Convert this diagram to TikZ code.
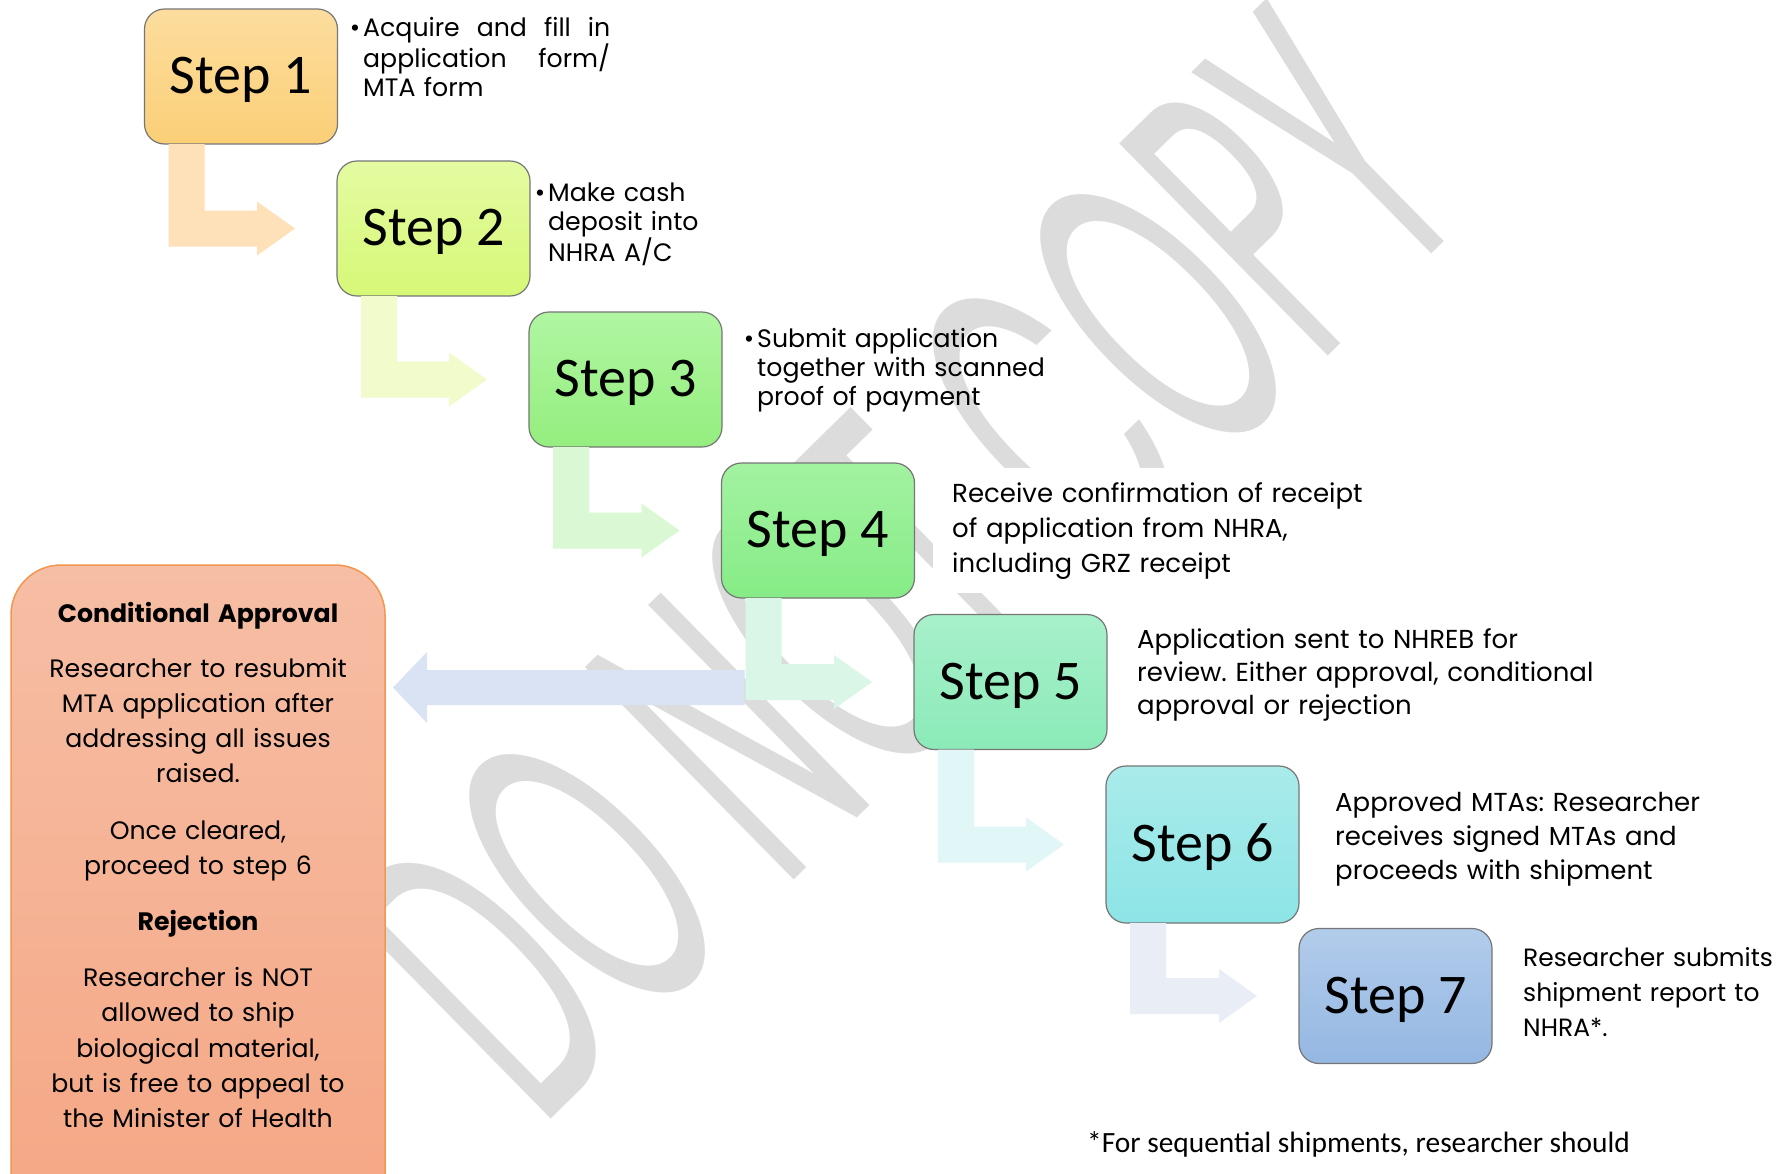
\documentclass[tikz,border=0pt]{standalone}
\usepackage{fontspec}
\setmainfont{Poppins}
\newfontfamily\calfont{Carlito}
\usepackage{graphicx}
\usetikzlibrary{calc}
\frenchspacing
\definecolor{s1t}{HTML}{FCDD9E}\definecolor{s1b}{HTML}{FBCF77}
\definecolor{s2t}{HTML}{E4FBA2}\definecolor{s2b}{HTML}{D6F876}
\definecolor{s3t}{HTML}{B0F6A2}\definecolor{s3b}{HTML}{94EE7E}
\definecolor{s4t}{HTML}{A3F2A1}\definecolor{s4b}{HTML}{86EC86}
\definecolor{s5t}{HTML}{A8F0CB}\definecolor{s5b}{HTML}{8BEAB8}
\definecolor{s6t}{HTML}{AAEBEB}\definecolor{s6b}{HTML}{8DE4E6}
\definecolor{s7t}{HTML}{B2CCEB}\definecolor{s7b}{HTML}{94B7E2}
\definecolor{a1}{HTML}{FEE1B9}
\definecolor{a2}{HTML}{F1FBCB}
\definecolor{a3}{HTML}{D9F8D3}
\definecolor{a4}{HTML}{DAF6E6}
\definecolor{a5}{HTML}{E1F6F7}
\definecolor{a6}{HTML}{E9EDF6}
\definecolor{ab}{HTML}{DAE3F3}
\definecolor{cbt}{HTML}{F6BEA5}\definecolor{cbb}{HTML}{F5A683}\definecolor{cbd}{HTML}{F4964E}
\definecolor{wmgray}{HTML}{DCDCDC}
\definecolor{bord}{HTML}{767676}
\newcommand{\bentarr}[3]{%
  \fill[#3] let \p1=(#1.south west), \p2=(#2.west) in
    (\x1+24pt,\y1) -- (\x1+60pt,\y1) -- (\x1+60pt,\y2+18pt) -- (\x2-80pt,\y2+18pt)
    -- (\x2-80pt,\y2+27pt) -- (\x2-42pt,\y2) -- (\x2-80pt,\y2-27pt) -- (\x2-80pt,\y2-18pt)
    -- (\x1+24pt,\y2-18pt) -- cycle;}
\newcommand{\steplabel}[1]{\raisebox{-4.5pt}[30pt][5pt]{Step #1}}
\tikzset{
  stepbox/.style={draw=bord, line width=1.2pt, rounded corners=20pt, minimum width=193pt,
    minimum height=135pt, inner sep=0pt, outer sep=0pt, font=\calfont\fontsize{56}{60}\selectfont},
  descs/.style={anchor=base west, inner sep=0pt, align=left, font=\fontsize{25.2}{29}\selectfont},
  descl/.style={anchor=base west, inner sep=0pt, align=left, font=\fontsize{26}{35}\selectfont},
}
\begin{document}
\begin{tikzpicture}[x=1pt,y=-1pt]
\useasboundingbox (0,0) rectangle (1784,1173);
\clip (0,0) rectangle (1784,1173);
\fill[white] (0,0) rectangle (1784,1173);
% watermark
\node[anchor=base west, rotate=44.5, inner sep=0pt, text=wmgray, font=\fontsize{194}{194}\selectfont] (wm) at (540,1130) {\scalebox{1}[2.2]{DO NOT COPY}};
% conditional box
\node[draw=cbd, line width=1.5pt, rounded corners=50pt, top color=cbt, bottom color=cbb,
  minimum width=374pt, minimum height=680pt, inner sep=0pt, outer sep=0pt] (c) at (198,905) {};
\node[anchor=base, text width=370pt, align=center, inner sep=0pt, font=\fontsize{25.2}{35.2}\selectfont] (ct) at (198,622)
 {\textbf{Conditional Approval}\\[20pt]Researcher to resubmit\\MTA application after\\addressing all issues\\raised.\\[21pt]Once cleared,\\proceed to step 6\\[21pt]\textbf{Rejection}\\[21pt]Researcher is NOT\\allowed to ship\\biological material,\\but is free to appeal to\\the Minister of Health};
% steps
\node[stepbox, top color=s1t, bottom color=s1b] (s1) at (241,76.5) {\steplabel{1}};
\node[stepbox, top color=s2t, bottom color=s2b] (s2) at (433.5,228.5) {\steplabel{2}};
\node[stepbox, top color=s3t, bottom color=s3b] (s3) at (625.5,379.5) {\steplabel{3}};
\node[stepbox, top color=s4t, bottom color=s4b] (s4) at (818,530.5) {\steplabel{4}};
\node[stepbox, top color=s5t, bottom color=s5b] (s5) at (1010.5,682) {\steplabel{5}};
\node[stepbox, top color=s6t, bottom color=s6b, minimum height=157pt] (s6) at (1202.5,844.5) {\steplabel{6}};
\node[stepbox, top color=s7t, bottom color=s7b] (s7) at (1395.5,996) {\steplabel{7}};
% connectors
\fill[ab] let \p1=(c.east), \p2=(s4.south west), \p3=(s5.west) in
  (\x2+23pt,\y3+12pt) -- (\x1+42pt,\y3+12pt) -- (\x1+42pt,\y3+30pt) -- (\x1+8pt,\y3-5.5pt)
  -- (\x1+42pt,\y3-41pt) -- (\x1+42pt,\y3-23pt) -- (\x2+23pt,\y3-23pt) -- cycle;
\bentarr{s1}{s2}{a1}
\bentarr{s2}{s3}{a2}
\bentarr{s3}{s4}{a3}
\bentarr{s4}{s5}{a4}
\bentarr{s5}{s6}{a5}
\bentarr{s6}{s7}{a6}
% descriptions
\node[descs, text width=247pt] (d1) at (363,36) {\llap{•\hspace{3pt}}Acquire\hfill and\hfill fill\hfill in\\application\hfill form/\\MTA form};
\node[descs, text width=220pt] (d2) at (548,201) {\llap{•\hspace{3pt}}Make cash\\deposit into\\NHRA A/C};
\node[descs, text width=330pt] (d3) at (757,347) {\llap{•\hspace{3pt}}Submit application\\together with scanned\\proof of payment};
\node[descl, text width=420pt, fill=white, inner xsep=19pt, inner ysep=14pt] (d4) at (933,502) {Receive confirmation of receipt\\of application from NHRA,\\including GRZ receipt};
\node[descl, text width=470pt, font=\fontsize{26}{33}\selectfont] (d5) at (1137,648) {Application sent to NHREB for\\review. Either approval, conditional\\approval or rejection};
\node[descl, text width=400pt, font=\fontsize{26}{34}\selectfont] (d6) at (1335,811) {Approved MTAs: Researcher\\receives signed MTAs and\\proceeds with shipment};
\node[descl, text width=260pt, font=\fontsize{25}{35}\selectfont] (d7) at (1523,966) {Researcher submits\\shipment report to\\NHRA*.};
\node[anchor=base west, inner sep=0pt, font=\calfont\fontsize{29.4}{34}\selectfont] (fn) at (1087,1152) {*For sequential shipments, researcher should};
\end{tikzpicture}
\end{document}
